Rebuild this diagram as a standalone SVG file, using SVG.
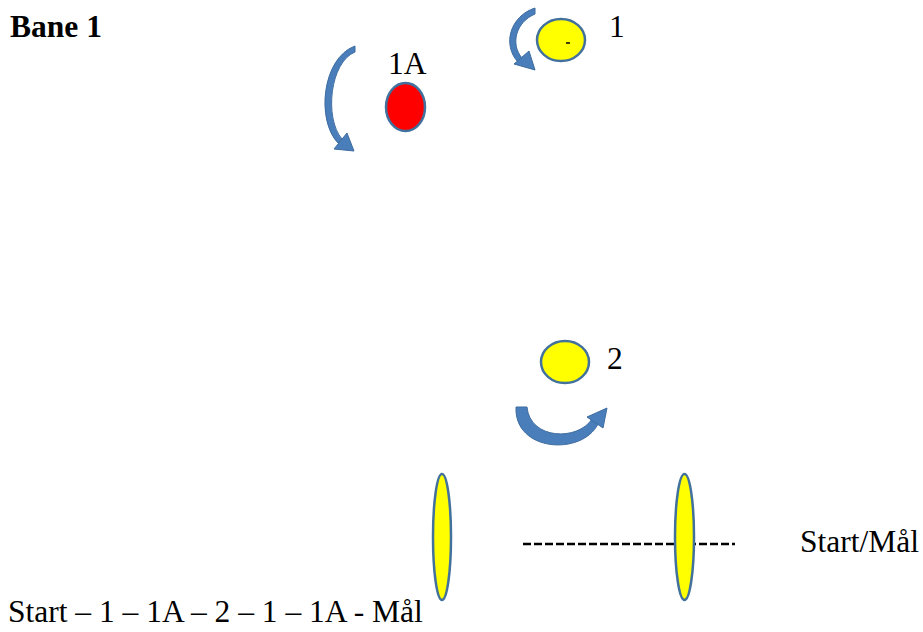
<svg xmlns="http://www.w3.org/2000/svg" width="923" height="632" viewBox="0 0 923 632">
<style>
text{font-family:"Liberation Serif","Times New Roman",serif;font-size:31.5px;fill:#000}
.y{fill:#ffff00;stroke:#41719c;stroke-width:2.5}
.r{fill:#ff0000;stroke:#41719c;stroke-width:2.5}
.a{fill:#4a7ebb;stroke:#3d6c9f;stroke-width:1}
</style>
<rect width="923" height="632" fill="#fff"/>
<text x="10" y="37" font-weight="bold" font-size="28.5">Bane 1</text>
<g id="node1">
<ellipse class="y" cx="561" cy="40" rx="24" ry="21"/>
<path d="M566,43 L570,43" stroke="#000" stroke-width="1.5"/>
<text x="609" y="37">1</text>
</g>
<g id="node1A">
<text x="388" y="74">1A</text>
<ellipse class="r" cx="405.5" cy="107" rx="19.5" ry="24"/>
</g>
<g id="node2">
<ellipse class="y" cx="565" cy="362" rx="24" ry="21"/>
<text x="607" y="369">2</text>
</g>
<g id="gateLeft">
<ellipse class="y" cx="442" cy="537" rx="9" ry="63"/>
</g>
<line x1="523" y1="544" x2="735" y2="544" stroke="#000" stroke-width="2.5" stroke-dasharray="8,3"/>
<g id="gateRight">
<ellipse class="y" cx="684.5" cy="537" rx="9.5" ry="63"/>
<text x="800" y="552">Start/Mål</text>
</g>
<g id="connectors">
<path class="a" d="M535,8 C510,16 502,45 518,62 L522,58 C510,44 516,22 535,14 Z"/>
<polygon class="a" points="535,70 514,64 529,51"/>
<path class="a" d="M355,46 C322,58 316,120 338,143 L342,139 C324,118 330,62 355,52 Z"/>
<polygon class="a" points="354,151 334,149 347,133"/>
<path class="a" d="M516,407 C514,452 582,456 598,424 L592,419 C578,441 530,440 527,407 Z"/>
<polygon class="a" points="607,408 603,428 587,417"/>
</g>
<text x="8" y="622">Start – 1 – 1A – 2 – 1 – 1A - Mål</text>
</svg>
